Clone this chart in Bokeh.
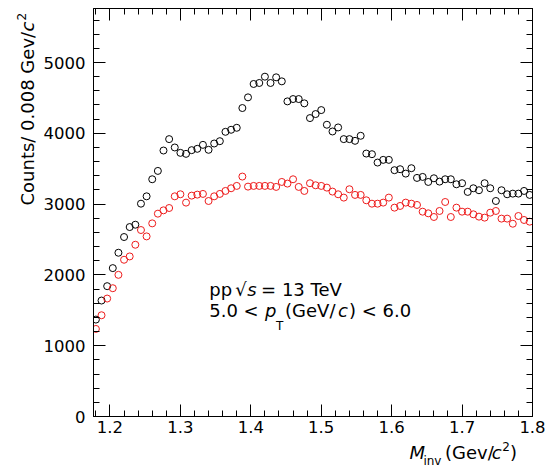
from bokeh.plotting import figure
from bokeh.models import (Range1d, FixedTicker, LinearAxis, Label,
                          CustomJSTickFormatter)
from bokeh.layouts import row, column
from bokeh.embed import file_html
from bokeh.resources import INLINE

# ---- data ----
mass = [1.18, 1.188, 1.196, 1.204, 1.212, 1.22, 1.228, 1.236, 1.244, 1.252,
        1.26, 1.268, 1.276, 1.284, 1.292, 1.3, 1.308, 1.316, 1.324, 1.332,
        1.34, 1.348, 1.356, 1.364, 1.372, 1.38, 1.388, 1.396, 1.404, 1.412,
        1.42, 1.428, 1.436, 1.444, 1.452, 1.46, 1.468, 1.476, 1.484, 1.492,
        1.5, 1.508, 1.516, 1.524, 1.532, 1.54, 1.548, 1.556, 1.564, 1.572,
        1.58, 1.588, 1.596, 1.604, 1.612, 1.62, 1.628, 1.636, 1.644, 1.652,
        1.66, 1.668, 1.676, 1.684, 1.692, 1.7, 1.708, 1.716, 1.724, 1.732,
        1.74, 1.748, 1.756, 1.764, 1.772, 1.78, 1.788, 1.796]

counts_black = [1369, 1638, 1841, 2096, 2313, 2535, 2676, 2709, 3006, 3110,
                3351, 3469, 3757, 3918, 3800, 3724, 3710, 3762, 3781, 3837,
                3767, 3856, 3889, 4021, 4050, 4078, 4357, 4508, 4697, 4711,
                4800, 4711, 4791, 4734, 4451, 4484, 4484, 4423, 4215, 4272,
                4328, 4121, 4026, 4083, 3918, 3918, 3894, 3965, 3714, 3705,
                3587, 3625, 3625, 3479, 3493, 3431, 3507, 3370, 3384, 3313,
                3365, 3318, 3351, 3351, 3280, 3295, 3172, 3224, 3196, 3295,
                3224, 3044, 3196, 3139, 3148, 3148, 3186, 3130]

counts_red = [1237, 1430, 1666, 1812, 2001, 2214, 2261, 2426, 2634, 2544,
              2728, 2865, 2912, 2945, 3110, 3139, 3021, 3120, 3134, 3144,
              3044, 3110, 3144, 3186, 3224, 3257, 3389, 3247, 3257, 3257,
              3257, 3257, 3243, 3313, 3290, 3351, 3243, 3186, 3295, 3266,
              3257, 3233, 3177, 3139, 3092, 3210, 3130, 3130, 3054, 3006,
              3006, 3021, 3092, 2950, 2974, 3021, 3006, 2988, 2893, 2870,
              2818, 2903, 3030, 2818, 2950, 2893, 2893, 2856, 2823, 2809,
              2879, 2903, 2795, 2795, 2723, 2832, 2776, 2752]

x_ticks = [1.2, 1.3, 1.4, 1.5, 1.6, 1.7, 1.8]
x_tick_labels = ["1.2", "1.3", "1.4", "1.5", "1.6", "1.7", "1.8"]
x_minor = [1.18, 1.22, 1.24, 1.26, 1.28, 1.32, 1.34, 1.36, 1.38, 1.42, 1.44,
           1.46, 1.48, 1.52, 1.54, 1.56, 1.58, 1.62, 1.64, 1.66, 1.68, 1.72,
           1.74, 1.76, 1.78]
y_ticks = [0, 1000, 2000, 3000, 4000, 5000]
y_minor = [200, 400, 600, 800, 1200, 1400, 1600, 1800, 2200, 2400, 2600, 2800,
           3200, 3400, 3600, 3800, 4200, 4400, 4600, 4800, 5200, 5400, 5600]

X0, X1 = 1.1766, 1.8
Y0, Y1 = 0, 5763
FONT = "DejaVu Sans"

# overall canvas 547 x 468: left strip for the y title, bottom strip for x title
W, H = 547, 468
LW = 40            # width of the y-title strip
MH = 440           # height of the main plot
FL, FW, FT, FH = 92, 440, 8, 408   # frame in page pixels

# ---------------- main plot ----------------
p = figure(width=W - LW, height=MH, output_backend="svg", toolbar_location=None,
           title=None,
           x_range=Range1d(X0, X1), y_range=Range1d(Y0, Y1),
           x_axis_type=None, y_axis_type=None,
           min_border_left=FL - LW, min_border_right=W - FL - FW,
           min_border_top=FT, min_border_bottom=MH - FT - FH)
p.outline_line_color = "black"
p.outline_line_width = 1
p.background_fill_color = "white"
p.border_fill_color = "white"

xt = FixedTicker(ticks=x_ticks, minor_ticks=x_minor)
yt = FixedTicker(ticks=y_ticks, minor_ticks=y_minor)


def style(ax, labels=True):
    ax.axis_line_color = "black"
    ax.axis_line_width = 1
    ax.major_tick_in = 12
    ax.major_tick_out = 0
    ax.minor_tick_in = 6
    ax.minor_tick_out = 0
    ax.major_tick_line_color = "black"
    ax.minor_tick_line_color = "black"
    if labels:
        ax.major_label_text_font = FONT
        ax.major_label_text_font_size = "16.5px"
        ax.major_label_text_color = "black"
    else:
        ax.formatter = CustomJSTickFormatter(code="return ''")
        ax.major_label_standoff = 0


bottom = LinearAxis(ticker=xt)
style(bottom)
bottom.major_label_overrides = dict(zip(x_ticks, x_tick_labels))
bottom.major_label_standoff = 4
p.add_layout(bottom, "below")

left = LinearAxis(ticker=yt)
style(left)
left.major_label_standoff = 8
p.add_layout(left, "left")

top = LinearAxis(ticker=xt)
style(top, labels=False)
p.add_layout(top, "above")

right = LinearAxis(ticker=yt)
style(right, labels=False)
p.add_layout(right, "right")

p.scatter(mass, counts_black, marker="circle", size=7, fill_color=None,
          line_color="black", line_width=1)
p.scatter(mass, counts_red, marker="circle", size=7, fill_color=None,
          line_color="#ee1c1c", line_width=1)


def sx(px):
    return X0 + (px - FL) / FW * (X1 - X0)


def sy(py):
    return Y1 - (py - FT) / FH * (Y1 - Y0)


def lab(fig, x, y, text, size="18px", italic=False, angle=0.0):
    fig.add_layout(Label(x=x, y=y, text=text, text_font=FONT,
                         text_font_size=size,
                         text_font_style="italic" if italic else "normal",
                         text_color="black", text_align="left",
                         text_baseline="alphabetic", angle=angle))


# annotation text inside the frame (y values compensate the svg baseline shift)
lab(p, sx(208), sy(288.5), "pp")
lab(p, sx(234), sy(288.5), "\u221a")
lab(p, sx(246), sy(288.5), "s", italic=True)
lab(p, sx(260), sy(288.5), "= 13 TeV")
lab(p, sx(208), sy(310), "5.0 <")
lab(p, sx(264), sy(310), "p", italic=True)
lab(p, sx(275), sy(325.5), "T", size="12px")
lab(p, sx(284), sy(310), "(GeV/")
lab(p, sx(337), sy(310), "c", italic=True)
lab(p, sx(348), sy(310), ") < 6.0")


def strip(width, height, x0, x1, y0, y1):
    f = figure(width=width, height=height, output_backend="svg",
               toolbar_location=None, title=None,
               x_range=Range1d(x0, x1), y_range=Range1d(y1, y0),
               x_axis_type=None, y_axis_type=None,
               min_border=0, min_border_left=0, min_border_right=0,
               min_border_top=0, min_border_bottom=0)
    f.outline_line_color = None
    f.background_fill_color = "white"
    f.border_fill_color = "white"
    return f


# ---------------- y-axis title strip (page pixel coordinates) ----------------
ystrip = strip(LW, H, 0, LW, 0, H)
ROT = 1.5707963267948966
lab(ystrip, 27, 205, "Counts/ 0.008 Gev/", size="18px", angle=ROT)
lab(ystrip, 27, 31, "c", size="18px", italic=True, angle=ROT)
lab(ystrip, 21, 20, "2", size="12px", angle=ROT)

# ---------------- x-axis title strip (page pixel coordinates) ----------------
xstrip = strip(W - LW, H - MH, LW, W, MH, H)
lab(xstrip, 405, 452, "M", size="18px", italic=True)
lab(xstrip, 421, 460.5, "inv", size="12px")
lab(xstrip, 446, 452, "(Gev/", size="18px")
lab(xstrip, 500, 452, "c", size="18px", italic=True)
lab(xstrip, 512, 445.5, "2", size="12px")
lab(xstrip, 521, 452, ")", size="18px")

layout = row(ystrip, column(p, xstrip, spacing=0), spacing=0)
open("out.html", "w").write(file_html(layout, INLINE))
